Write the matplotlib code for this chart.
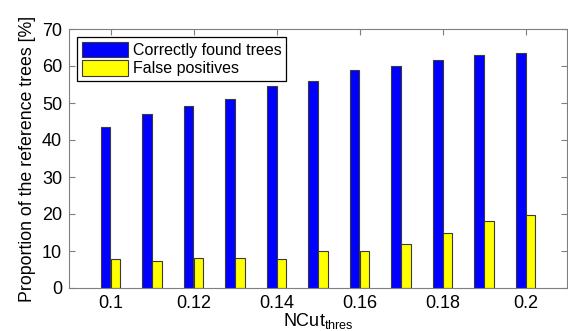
import matplotlib
matplotlib.use("Agg")
import matplotlib.pyplot as plt
import numpy as np

plt.rcParams['font.family'] = ['Liberation Sans', 'DejaVu Sans']
plt.rcParams['mathtext.fontset'] = 'custom'
plt.rcParams['mathtext.rm'] = 'Liberation Sans'

thresholds = [0.10, 0.11, 0.12, 0.13, 0.14, 0.15, 0.16, 0.17, 0.18, 0.19, 0.20]
correct = [43.4, 47.0, 49.1, 51.0, 54.6, 56.0, 59.0, 60.0, 61.6, 63.1, 63.6]
false_pos = [7.8, 7.3, 8.2, 8.2, 7.8, 10.0, 10.0, 11.8, 14.9, 18.0, 19.8]
xticks = [0.10, 0.12, 0.14, 0.16, 0.18, 0.20]
xticklabels = ['0.1', '0.12', '0.14', '0.16', '0.18', '0.2']
yticks = [0, 10, 20, 30, 40, 50, 60, 70]

fig = plt.figure(figsize=(5.68, 3.31), dpi=100)
ax = fig.add_axes([69/568, 1-288/331, (567-69)/568, (288-29)/331])

x = np.array(thresholds)
w = 0.0024
edge = '#3a3a3a'
ax.bar(x - w/2, correct, width=w, color='#0000ff', edgecolor=edge, linewidth=0.8,
       label='Correctly found trees', zorder=2)
ax.bar(x + w/2, false_pos, width=w, color='#ffff00', edgecolor=edge, linewidth=0.8,
       label='False positives', zorder=2)

ax.set_xlim(0.09, 0.21)
ax.set_ylim(0, 70)
ax.set_xticks(xticks)
ax.set_xticklabels(xticklabels)
ax.set_yticks(yticks)
ax.tick_params(direction='in', length=4, width=0.8, color='#7f7f7f',
               labelsize=13, top=True, right=True, pad=5)
for s in ax.spines.values():
    s.set_color('#7f7f7f')
    s.set_linewidth(0.8)

ax.set_xlabel(r'NCut$_{\mathrm{thres}}$', fontsize=13, labelpad=-1)
ax.set_ylabel('Proportion of the reference trees [%]', fontsize=12.8, labelpad=4)

leg = ax.legend(loc='upper left', fontsize=11.5, frameon=True, fancybox=False,
                edgecolor='black', framealpha=1, borderpad=0.3, labelspacing=0.15,
                handlelength=2.9, handleheight=1.1, handletextpad=0.3,
                borderaxespad=0.5)
leg.get_frame().set_linewidth(0.9)

fig.savefig('out.png', dpi=100)
